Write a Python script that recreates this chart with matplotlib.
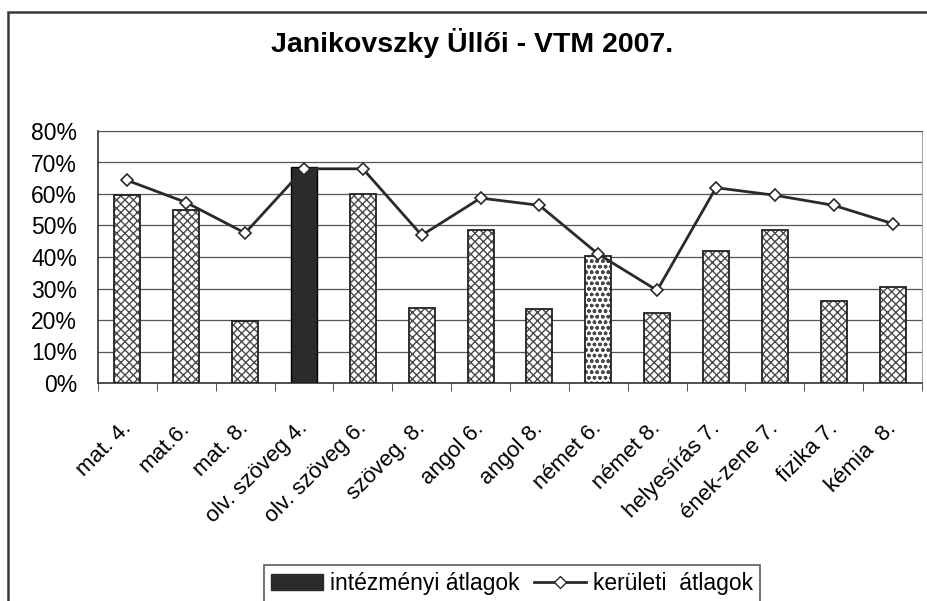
import numpy as np
import matplotlib.pyplot as plt
import matplotlib.transforms as mtransforms
from matplotlib.patches import Rectangle, Patch
from matplotlib.lines import Line2D
from matplotlib.ticker import MultipleLocator, PercentFormatter

plt.rcParams['font.family'] = ['Liberation Sans', 'DejaVu Sans']
plt.rcParams['hatch.linewidth'] = 1.0

categories = ['mat. 4.', 'mat.6.', 'mat. 8.', 'olv. szöveg 4.', 'olv. szöveg 6.',
              'szöveg. 8.', 'angol 6.', 'angol 8.', 'német 6.', 'német 8.',
              'helyesírás 7.', 'ének-zene 7.', 'fizika 7.', 'kémia  8.']
intezmenyi = [59.7, 54.8, 19.6, 68.6, 60.1, 23.9, 48.7, 23.4, 40.3, 22.3, 41.9, 48.7, 25.9, 30.4]
keruleti = [64.3, 57.3, 47.6, 68.0, 68.0, 46.9, 58.7, 56.4, 40.9, 29.4, 62.0, 59.6, 56.4, 50.6]
# bar fill style per category: hatched, solid, dotted
fills = ['x', 'x', 'x', 's', 'x', 'x', 'x', 'x', 'd', 'x', 'x', 'x', 'x', 'x']

fig = plt.figure(figsize=(9.28, 6.01), dpi=100)
ax = fig.add_axes([98 / 928, 1 - 383 / 601, 824 / 928, 252 / 601])

x = np.arange(len(categories))
w = 0.44
for xi, v, f in zip(x, intezmenyi, fills):
    if f == 's':
        ax.bar(xi, v, w, color='#2b2b2b', edgecolor='black', linewidth=1, zorder=3)
    else:
        hatch = 'xxxx' if f == 'x' else 'ooo'
        ax.bar(xi, v, w, color='white', edgecolor='#4a4a4a', hatch=hatch, linewidth=0, zorder=3)
        ax.bar(xi, v, w, color='none', edgecolor='#222222', linewidth=1.3, zorder=4)

ax.plot(x, keruleti, color='#2a2a2a', linewidth=2, marker='D', markersize=6.5,
        markerfacecolor='white', markeredgecolor='#2a2a2a', markeredgewidth=1.2, zorder=5)

ax.set_xlim(-0.5, len(categories) - 0.5)
ax.set_ylim(0, 80)
ax.yaxis.set_major_locator(MultipleLocator(10))
ax.yaxis.set_major_formatter(PercentFormatter(decimals=0))
ax.grid(axis='y', color='#555555', linewidth=0.9, zorder=0)
ax.set_axisbelow(True)

ax.set_xticks(x)
ax.set_xticklabels(categories, rotation=45, ha='right', rotation_mode='anchor', fontsize=16)
ax.tick_params(axis='x', length=0, pad=25)
shift = mtransforms.ScaledTranslation(-0.07, 0, fig.dpi_scale_trans)
for lab in ax.get_xticklabels():
    lab.set_transform(lab.get_transform() + shift)
ax.set_xticks(np.arange(len(categories) + 1) - 0.5, minor=True)
ax.tick_params(axis='x', which='minor', length=6, direction='out', color='#333333')
ax.tick_params(axis='y', labelsize=16.5, length=0, pad=15)

for s in ['top', 'right']:
    ax.spines[s].set_color('#aaaaaa')
    ax.spines[s].set_linewidth(0.8)
ax.spines['top'].set_color('#555555')
ax.spines['left'].set_color('#333333')
ax.spines['bottom'].set_color('#333333')
ax.spines['left'].set_linewidth(1.2)
ax.spines['bottom'].set_linewidth(1.2)

fig.text(472 / 928, 1 - 43 / 601, 'Janikovszky Üllői - VTM 2007.', ha='center', va='center',
         fontsize=20.5, fontweight='bold')

# outer chart frame (right and bottom edges fall outside the picture)
fig.add_artist(Rectangle((8 / 928, -0.1), 1.2, 1.1 - 12 / 601, transform=fig.transFigure,
                         fill=False, edgecolor='#3a3a3a', linewidth=1.8, clip_on=False))

handles = [Patch(facecolor='#2b2b2b', edgecolor='#2b2b2b'),
           Line2D([], [], color='#2a2a2a', linewidth=2, marker='D', markersize=6,
                  markerfacecolor='white', markeredgecolor='#2a2a2a')]
leg = fig.legend(handles, ['intézményi átlagok', 'kerületi  átlagok'], loc='upper center',
                 bbox_to_anchor=(512 / 928, 1 - 565 / 601), ncol=2, fontsize=16.5,
                 frameon=True, fancybox=False, edgecolor='#333333', handlelength=2.3,
                 handletextpad=0.3, columnspacing=0.6, borderpad=0.3, borderaxespad=0)
leg.get_frame().set_linewidth(1.2)

fig.savefig('out.png', dpi=100)
